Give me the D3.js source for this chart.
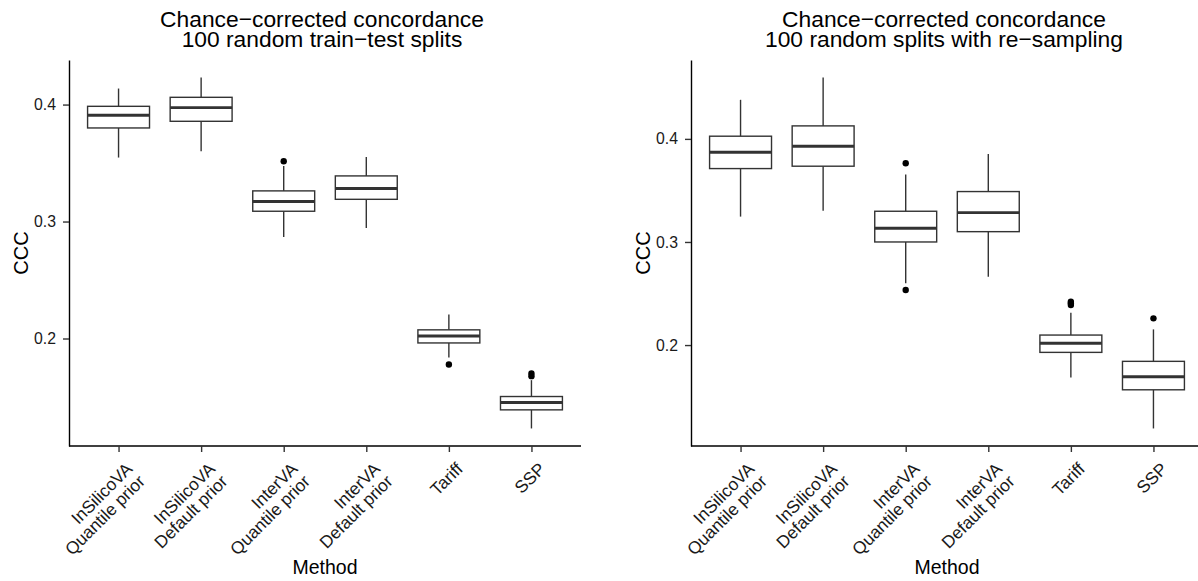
<!DOCTYPE html>
<html><head><meta charset="utf-8">
<script src="https://cdn.jsdelivr.net/npm/d3@7"></script>
<style>body{margin:0;background:#fff} text{font-family:"Liberation Sans",Arial,Helvetica,sans-serif}</style>
</head><body><svg id="c" width="1198" height="581"></svg>
<script>
// ---- data ----
const categories = [["InSilicoVA","Quantile prior"],["InSilicoVA","Default prior"],["InterVA","Quantile prior"],["InterVA","Default prior"],["Tariff"],["SSP"]];
const yTicks = [0.2, 0.3, 0.4];
const xTitle = "Method";
const yTitle = "CCC";

const leftTitle = ["Chance\u2212corrected concordance", "100 random train\u2212test splits"];
const leftLower  = [0.3547, 0.3600, 0.2868, 0.2945, 0.1838, 0.1231];
const leftQ1     = [0.3800, 0.3857, 0.3088, 0.3190, 0.1962, 0.1390];
const leftMedian = [0.3909, 0.3974, 0.3171, 0.3282, 0.2022, 0.1453];
const leftQ3     = [0.3985, 0.4062, 0.3262, 0.3390, 0.2074, 0.1504];
const leftUpper  = [0.4137, 0.4231, 0.3475, 0.3552, 0.2205, 0.1644];
const leftOutliers = [[], [], [0.3515], [], [0.1778], [0.1701, 0.1678]];

const rightTitle = ["Chance\u2212corrected concordance", "100 random splits with re\u2212sampling"];
const rightLower  = [0.3246, 0.3304, 0.2600, 0.2663, 0.1686, 0.1191];
const rightQ1     = [0.3712, 0.3735, 0.3000, 0.3100, 0.1929, 0.1566];
const rightMedian = [0.3871, 0.3929, 0.3133, 0.3285, 0.2017, 0.1692];
const rightQ3     = [0.4026, 0.4126, 0.3298, 0.3489, 0.2097, 0.1842];
const rightUpper  = [0.4379, 0.4595, 0.3654, 0.3854, 0.2314, 0.2152];
const rightOutliers = [[], [], [0.3764, 0.2534], [], [0.2421, 0.2405, 0.2388], [0.2259]];

// ---- drawing ----
const svg = d3.select("#c");
const boxStroke = "#333333";

function panel(opts) {
  const {x0, x1, yTop, yBot, title, lower, q1, median, q3, upper, outliers} = opts;
  const keys = categories.map((c, i) => i);
  const x = d3.scalePoint().domain(keys).range([x0, x1]).padding(0.6);
  const allVals = lower.concat(upper, outliers.flat());
  const lo = d3.min(allVals), hi = d3.max(allVals), pad = (hi - lo) * 0.05;
  const y = d3.scaleLinear().domain([lo - pad, hi + pad]).range([yBot, yTop]);
  const g = svg.append("g");
  const bw = x.step() * 0.75;

  const rows = keys.map(i => ({i, lower: lower[i], q1: q1[i], med: median[i], q3: q3[i], upper: upper[i], out: outliers[i]}));
  const b = g.selectAll("g.box").data(rows).enter().append("g").attr("class", "box");
  b.append("line").attr("x1", d => x(d.i)).attr("x2", d => x(d.i))
    .attr("y1", d => y(d.q3)).attr("y2", d => y(d.upper))
    .attr("stroke", boxStroke).attr("stroke-width", 1.4);
  b.append("line").attr("x1", d => x(d.i)).attr("x2", d => x(d.i))
    .attr("y1", d => y(d.q1)).attr("y2", d => y(d.lower))
    .attr("stroke", boxStroke).attr("stroke-width", 1.4);
  b.append("rect").attr("x", d => x(d.i) - bw / 2).attr("width", bw)
    .attr("y", d => y(d.q3)).attr("height", d => y(d.q1) - y(d.q3))
    .attr("fill", "#fff").attr("stroke", boxStroke).attr("stroke-width", 1.4);
  b.append("line").attr("x1", d => x(d.i) - bw / 2).attr("x2", d => x(d.i) + bw / 2)
    .attr("y1", d => y(d.med)).attr("y2", d => y(d.med))
    .attr("stroke", boxStroke).attr("stroke-width", 2.9);
  b.selectAll("circle").data(d => d.out.map(v => ({i: d.i, v}))).enter().append("circle")
    .attr("cx", d => x(d.i)).attr("cy", d => y(d.v)).attr("r", 3.2).attr("fill", "#000");

  // axes
  const ya = g.append("g").attr("transform", `translate(${x0},0)`)
    .call(d3.axisLeft(y).tickValues(yTicks).tickFormat(d3.format(".1f")).tickSize(6).tickSizeOuter(0).tickPadding(7));
  const xa = g.append("g").attr("transform", `translate(0,${yBot})`)
    .call(d3.axisBottom(x).tickFormat("").tickSize(6).tickSizeOuter(0));
  [ya, xa].forEach(a => {
    a.select(".domain").attr("stroke", "#000").attr("stroke-width", 1.4);
    a.selectAll(".tick line").attr("stroke", "#333").attr("stroke-width", 1.4);
  });
  ya.selectAll(".tick text").attr("font-size", 15.8).attr("fill", "#1a1a1a")
    .attr("font-family", '"Liberation Sans",Arial,sans-serif');
  xa.select(".domain").attr("d", `M${x0},0H${x1}`);

  // x tick labels rotated
  const lab = g.selectAll("g.xl").data(keys).enter().append("g").attr("class", "xl")
    .attr("transform", i => `translate(${x(i) + 15},${yBot + 24}) rotate(-45)`);
  lab.each(function(i) {
    const t = d3.select(this).append("text").attr("text-anchor", "end")
      .attr("font-size", 17.4).attr("fill", "#1a1a1a");
    categories[i].forEach((s, k) => t.append("tspan").attr("x", 0).attr("y", k * 17.6).text(s));
  });

  // axis titles
  const cx = (x0 + x1) / 2;
  g.append("text").attr("x", cx).attr("y", 574).attr("text-anchor", "middle")
    .attr("font-size", 19.5).attr("fill", "#000").text(xTitle);
  g.append("text").attr("transform", `translate(${x0 - 41},${(yTop + yBot) / 2}) rotate(-90)`)
    .attr("text-anchor", "middle").attr("font-size", 20).attr("fill", "#000").text(yTitle);
  // title
  const tt = g.append("text").attr("text-anchor", "middle").attr("font-size", 22.8).attr("fill", "#000");
  title.forEach((s, k) => tt.append("tspan").attr("x", cx - 3).attr("y", 26.7 + k * 20.2).text(s));
}

panel({x0: 69, x1: 581, yTop: 60, yBot: 446, title: leftTitle,
  lower: leftLower, q1: leftQ1, median: leftMedian, q3: leftQ3, upper: leftUpper, outliers: leftOutliers});
panel({x0: 691, x1: 1203, yTop: 60, yBot: 446, title: rightTitle,
  lower: rightLower, q1: rightQ1, median: rightMedian, q3: rightQ3, upper: rightUpper, outliers: rightOutliers});
</script>
</body></html>
